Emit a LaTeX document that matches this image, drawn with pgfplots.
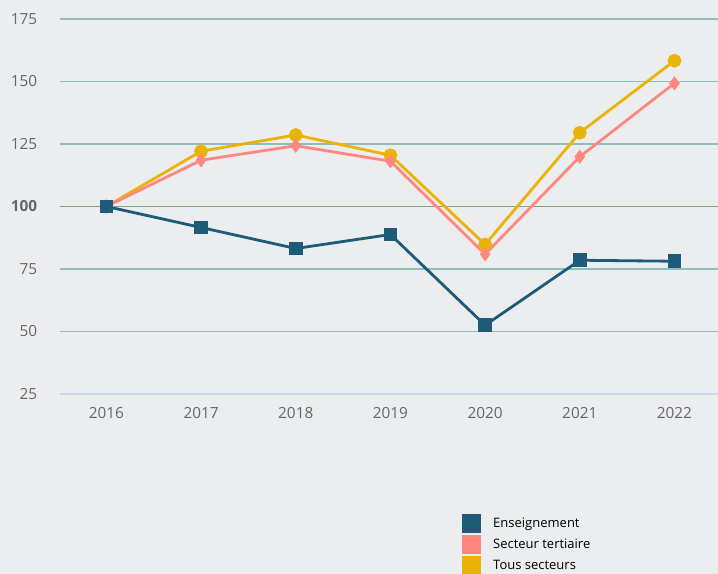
\documentclass[border=0pt]{standalone}
\usepackage{pgfplots}
\pgfplotsset{compat=1.18}
\usepackage{fontspec}
\setmainfont{Open Sans}
\definecolor{bgc}{HTML}{ECEDEF}
\definecolor{ens}{HTML}{1D5B79}
\definecolor{ter}{HTML}{FF8780}
\definecolor{tous}{HTML}{EAB308}
\definecolor{gridc}{HTML}{8FBDBA}
\definecolor{centc}{HTML}{7FA779}
\definecolor{basec}{HTML}{C8D7F0}
\definecolor{labc}{HTML}{666666}
\begin{document}
\begin{tikzpicture}[x=0.75pt,y=0.75pt]
\useasboundingbox (0,0) rectangle (718,574);
\fill[bgc] (0,0) rectangle (718,574);
\begin{axis}[
  at={(45pt,135pt)}, anchor=south west,
  scale only axis, width=493.5pt, height=281.25pt,
  xmin=2015.51, xmax=2022.46, ymin=25, ymax=175,
  axis line style={draw=none},
  major tick length=0pt,
  xtick={2016,2017,2018,2019,2020,2021,2022},
  xticklabels={2016,2017,2018,2019,2020,2021,2022},
  ytick={50,75,125,150,175},
  yticklabels={50,75,125,150,175},
  extra y ticks={25,100},
  extra y tick labels={25,\textbf{100}},
  extra y tick style={grid=none},
  ymajorgrids,
  major grid style={gridc, line width=1.2pt},
  ticklabel style={font=\fontsize{11.5}{13}\selectfont, text=labc},
  yticklabel style={anchor=east, inner sep=0pt, xshift=-17pt},
  xticklabel style={anchor=north, inner sep=0pt, yshift=-10pt},
  clip=false,
  legend style={draw=none, fill=none, inner sep=0pt, row sep=1.5pt, column sep=9pt,
    nodes={inner sep=0pt}, font=\fontsize{9.75}{11}\selectfont,
    at={(0.611,-0.32)}, anchor=north west},
  legend cell align=left,
  legend image code/.code={\fill[#1] (0pt,-7.1pt) rectangle (14.2pt,7.1pt);},
]
\addlegendimage{fill=ens, draw=none}
\addlegendentry{Enseignement}
\addlegendimage{fill=ter, draw=none}
\addlegendentry{Secteur tertiaire}
\addlegendimage{fill=tous, draw=none}
\addlegendentry{Tous secteurs}

\addplot[basec, line width=1.2pt, forget plot] coordinates {(2015.51,25) (2022.46,25)};
\addplot[centc, line width=1.2pt, forget plot] coordinates {(2015.51,100) (2022.46,100)};

\addplot[tous, line width=2.1pt, mark=*, mark size=4.1pt, forget plot] coordinates {
(2016,100) (2017,122.1) (2018,128.6) (2019,120.5) (2020,84.8) (2021,129.5) (2022,158.3)};
\addplot[ter, line width=2.1pt, mark=diamond*, mark size=3.6pt, forget plot] coordinates {
(2016,100) (2017,118.5) (2018,124.3) (2019,118.1) (2020,80.9) (2021,119.9) (2022,149.3)};
\addplot[ens, line width=2.1pt, mark=square*, mark size=4.1pt, forget plot] coordinates {
(2016,100) (2017,91.6) (2018,83.2) (2019,88.8) (2020,52.5) (2021,78.5) (2022,78.1)};
\end{axis}
\end{tikzpicture}
\end{document}
